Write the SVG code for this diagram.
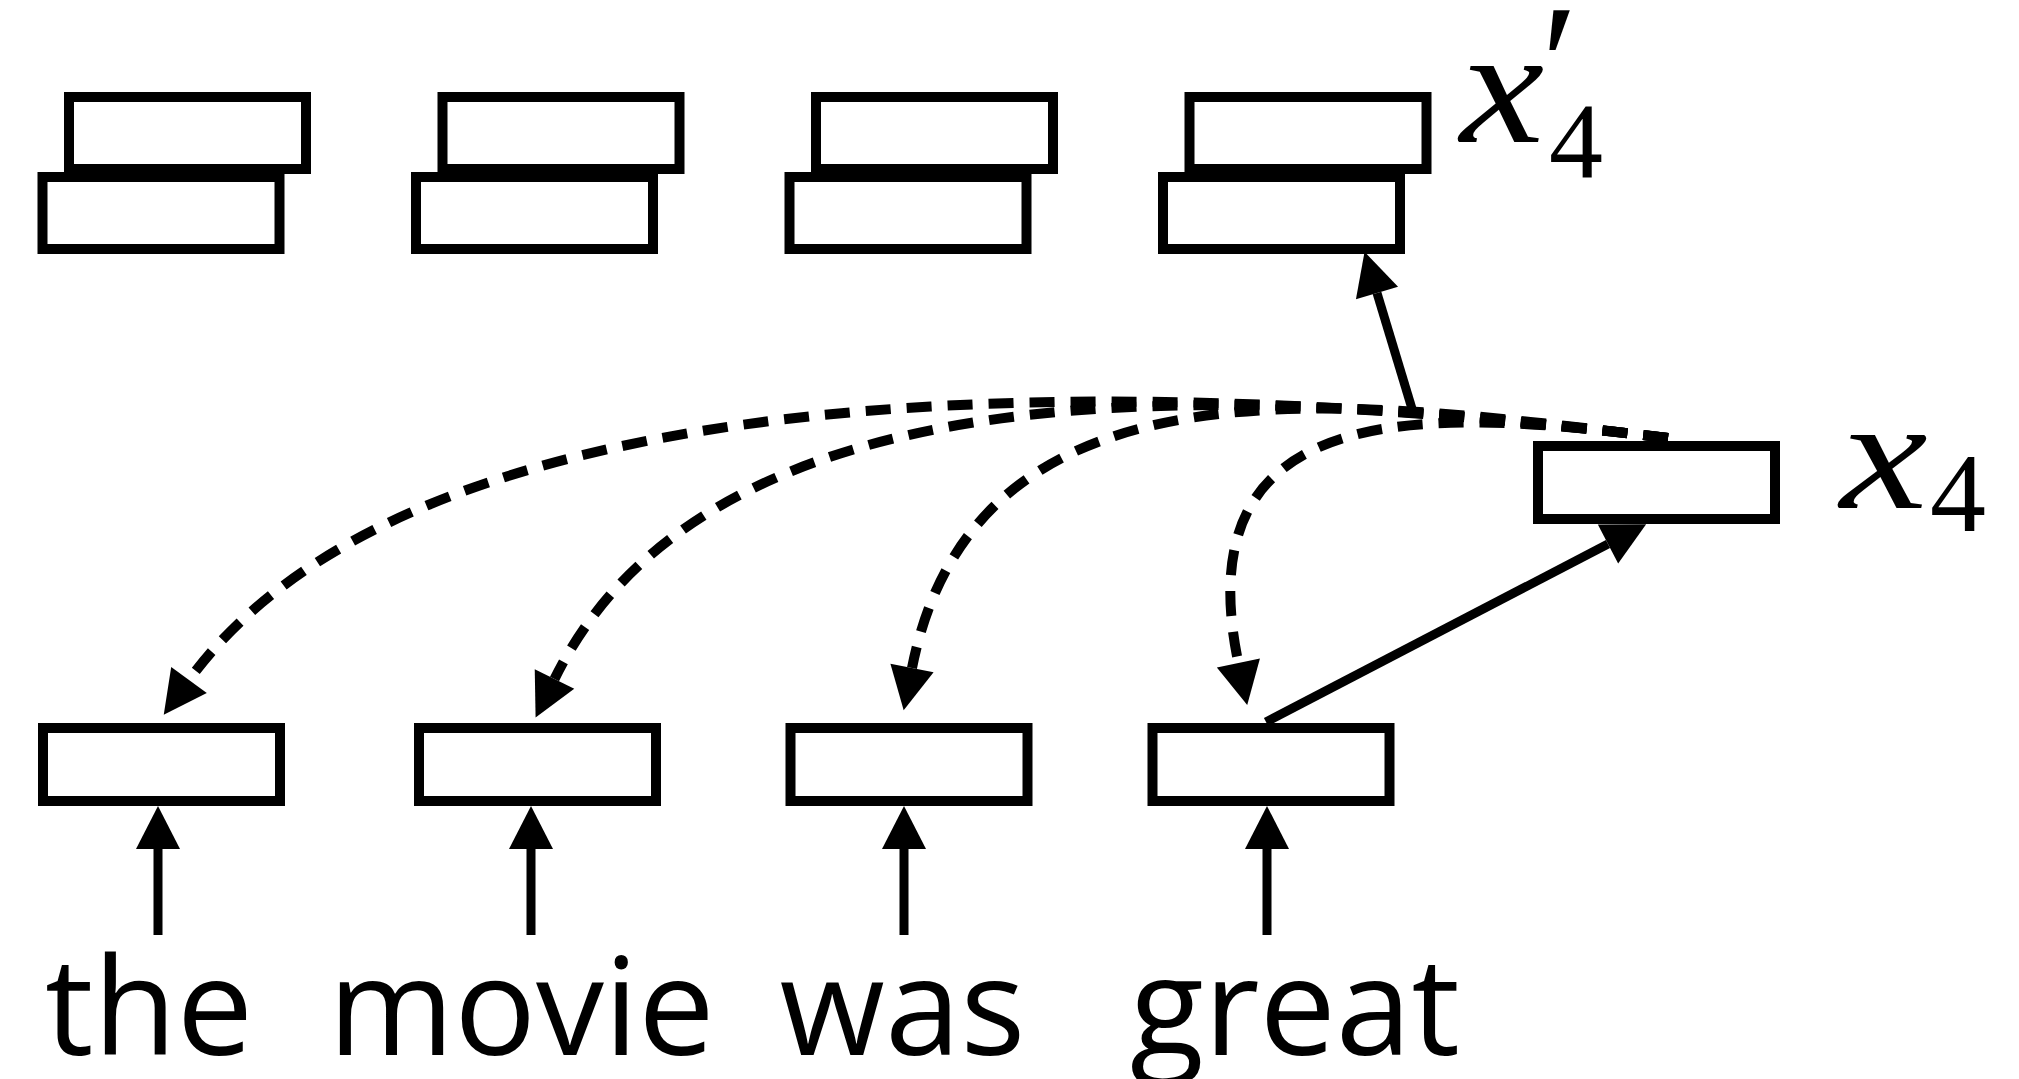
<svg xmlns="http://www.w3.org/2000/svg" width="2019" height="1079" viewBox="0 0 2019 1079">
<style>
.box{fill:#fff;stroke:#000;stroke-width:10}
.solid{fill:none;stroke:#000;stroke-width:9}
.dash{fill:none;stroke:#000;stroke-width:10;stroke-dasharray:25 16}
.word{font-family:"Open Sans","Noto Sans",sans-serif;font-size:136px;fill:#000;text-anchor:middle}
.mx{font-family:"Liberation Serif","Times New Roman",serif;font-style:italic;fill:#000}
.mn{font-family:"Liberation Serif","Times New Roman",serif;fill:#000}
</style>
<defs>
<marker id="ah" markerUnits="userSpaceOnUse" markerWidth="60" markerHeight="60" refX="0" refY="0" orient="auto" overflow="visible">
<path d="M0,-22 L43,0 L0,22 Z" fill="#000"/>
</marker>
</defs>
<rect width="2019" height="1079" fill="#fff"/>

<g id="top1"><rect class="box" x="69" y="97" width="237" height="72"/><rect class="box" x="42.5" y="177" width="237" height="72"/></g>
<g id="top2"><rect class="box" x="442.5" y="97" width="237" height="72"/><rect class="box" x="416" y="177" width="237" height="72"/></g>
<g id="top3"><rect class="box" x="816" y="97" width="237" height="72"/><rect class="box" x="789.5" y="177" width="237" height="72"/></g>
<g id="top4"><rect class="box" x="1189.5" y="97" width="237" height="72"/><rect class="box" x="1163" y="177" width="237" height="72"/></g>

<g id="label-x4p">
<text class="mx" transform="translate(1460,142) scale(1.15,1)" font-size="165">x</text>
<text class="mn" x="1541" y="121" font-size="170">′</text>
<text class="mn" x="1549" y="178" font-size="108">4</text>
</g>

<g id="x4"><rect class="box" x="1538" y="446" width="237" height="73"/></g>
<g id="label-x4">
<text class="mx" transform="translate(1840,508) scale(1.25,1)" font-size="158">x</text>
<text class="mn" x="1930" y="531" font-size="112">4</text>
</g>

<g id="b1"><rect class="box" x="43" y="728" width="237" height="73"/></g>
<g id="b2"><rect class="box" x="419" y="728" width="237" height="73"/></g>
<g id="b3"><rect class="box" x="790.5" y="728" width="237" height="73"/></g>
<g id="b4"><rect class="box" x="1152.5" y="728" width="237" height="73"/></g>

<g id="words">
<text class="word" x="149" y="1055">the</text>
<text class="word" x="521.5" y="1055">movie</text>
<text class="word" x="902.5" y="1055">was</text>
<text class="word" x="1295" y="1055">great</text>
</g>

<g id="connectors">
<line class="solid" x1="158" y1="935" x2="158" y2="849" marker-end="url(#ah)"/>
<line class="solid" x1="531" y1="935" x2="531" y2="849" marker-end="url(#ah)"/>
<line class="solid" x1="904" y1="935" x2="904" y2="849" marker-end="url(#ah)"/>
<line class="solid" x1="1267" y1="935" x2="1267" y2="849" marker-end="url(#ah)"/>
<line class="solid" x1="1266" y1="722" x2="1608" y2="544" marker-end="url(#ah)"/>
<line class="solid" x1="1413" y1="412" x2="1377" y2="293" marker-end="url(#ah)"/>
<path class="dash" d="M1668,438 C1350,400 454,315 189,680" marker-end="url(#ah)"/>
<path class="dash" d="M1668,438 C1300,395 722,337 554.5,679" marker-end="url(#ah)"/>
<path class="dash" d="M1668,438 C1350,400 976,344 912,668" marker-end="url(#ah)"/>
<path class="dash" d="M1668,438 C1440,410 1181,389 1238.4,663" marker-end="url(#ah)"/>
</g>
</svg>
